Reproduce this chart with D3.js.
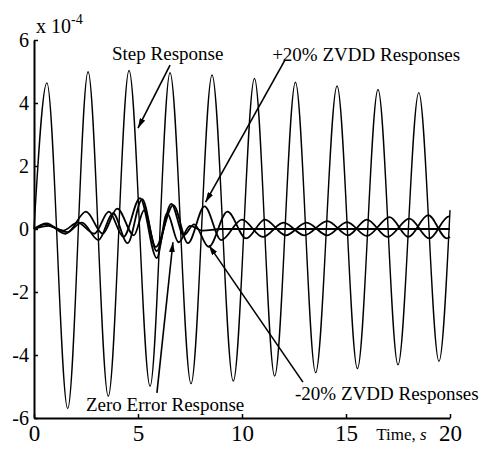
<!DOCTYPE html>
<html>
<head>
<meta charset="utf-8">
<script src="https://cdn.jsdelivr.net/npm/d3@7"></script>
<style>
    body { margin: 0; background: #fff; }
    #chart { width: 486px; height: 454px; }
    text { font-family: 'Liberation Serif', 'Times New Roman', serif; fill: #000; }
    .axis path, .axis line { stroke: #000; }
</style>
</head>
<body>
<div id="chart"></div>
<script>

// time (s), deflection (x 1e-4) -- extremes
let stepResponse = [
    [0, 0], [0.62, 4.64], [1.62, -5.7], [2.6, 4.99], [3.57, -5.31], [4.57, 5.03],
    [5.58, -4.99], [6.54, 4.96], [7.55, -4.91], [8.56, 4.89], [9.58, -4.83],
    [10.6, 4.78], [11.57, -4.67], [12.57, 4.66], [13.54, -4.56], [14.57, 4.54],
    [15.55, -4.43], [16.54, 4.43], [17.5, -4.31], [18.5, 4.33], [19.47, -4.2], [20, 0.6]
];

let zeroErrorResponse = [
    [0, 0], [0.5, 0.15], [1.4, -0.05], [2.1, 0.2], [2.9, -0.15], [3.6, 0.55],
    [4.3, -0.25], [5.1, 0.98], [5.9, -0.92], [6.4, 0.5], [6.95, -0.42],
    [7.5, 0.1], [8.1, -0.05], [9, 0], [20, 0]
];

let plus20Response = [
    [0, 0], [0.7, 0.1], [1.6, -0.1], [2.5, 0.55], [3.3, -0.15], [4.0, 0.65],
    [4.8, -0.2], [5.3, 0.6], [5.85, -0.57], [6.7, 0.76], [7.4, -0.45],
    [8.2, 0.72], [9.0, -0.35], [10.0, 0.3], [11.0, -0.25], [12.0, 0.2],
    [13.0, -0.2], [14.1, 0.25], [15.1, -0.2], [16.0, 0.3], [17.0, -0.25],
    [18.05, 0.33], [19.0, -0.3], [19.95, 0.4], [20, 0.4]
];

let minus20Response = [
    [0, 0], [0.6, 0.18], [1.5, -0.15], [2.3, 0.2], [3.1, -0.35], [3.8, 0.5],
    [4.5, -0.45], [5.2, 0.95], [5.9, -0.7], [6.6, 0.8], [7.2, -0.2],
    [7.7, 0.15], [8.4, -0.57], [9.3, 0.55], [10.2, -0.3], [11.1, 0.3],
    [12.1, -0.2], [13.1, 0.2], [14.1, -0.2], [15.05, 0.22], [16.0, -0.22],
    [17.1, 0.38], [18.0, -0.25], [18.95, 0.44], [19.85, -0.3], [20, -0.25]
];

let xTicks = [0, 5, 10, 15, 20];
let yTicks = [-6, -4, -2, 0, 2, 4, 6];

// label text, text anchor (t, v), arrow from (t, v), arrow to (t, v)
let annotations = [
    {text: "Step Response", at: [3.75, 5.37], from: [6.54, 5.2], to: [5.0, 3.2]},
    {text: "+20% ZVDD Responses", at: [11.45, 5.33], from: [12.07, 5.37], to: [8.25, 0.85]},
    {text: "Zero Error Response", at: [2.5, -5.78], from: [5.91, -5.2], to: [6.68, -0.42]},
    {text: "-20% ZVDD Responses", at: [12.55, -5.43], from: [12.93, -4.86], to: [8.41, -0.52]}
];

let margin = {top: 40, right: 36, bottom: 36, left: 34};
let width = 486 - margin.left - margin.right;
let height = 454 - margin.top - margin.bottom;

let svg = d3.select("#chart").append("svg")
    .attr("width", 486)
    .attr("height", 454)
    .append("g")
    .attr("transform", `translate(${margin.left}, ${margin.top})`);

svg.append("defs").append("marker")
    .attr("id", "arrow")
    .attr("viewBox", "0 0 10 6")
    .attr("refX", 10)
    .attr("refY", 3)
    .attr("markerWidth", 10)
    .attr("markerHeight", 6)
    .attr("markerUnits", "userSpaceOnUse")
    .attr("orient", "auto")
    .append("path")
    .attr("d", "M0,0L10,3L0,6Z")
    .attr("fill", "#000");

let x = d3.scaleLinear().domain([0, 20]).range([0, width]);
let y = d3.scaleLinear().domain([-6, 6]).range([height, 0]);

let line = d3.line()
    .x(d => x(d[0]))
    .y(d => y(d[1]))
    .curve(d3.curveMonotoneX);

// responses
svg.append("path")
    .datum(stepResponse)
    .attr("fill", "none")
    .attr("stroke", "#000")
    .attr("stroke-width", 1.4)
    .attr("d", line);

[zeroErrorResponse, plus20Response, minus20Response].forEach(series => {
    svg.append("path")
        .datum(series)
        .attr("fill", "none")
        .attr("stroke", "#000")
        .attr("stroke-width", 1.8)
        .attr("d", line);
});

// axes
let xAxis = svg.append("g")
    .attr("class", "axis")
    .attr("transform", `translate(0, ${height})`)
    .call(d3.axisBottom(x).tickValues(xTicks).tickSizeInner(-4).tickSizeOuter(0)
        .tickPadding(7).tickFormat(d => String(d)));

let yAxis = svg.append("g")
    .attr("class", "axis")
    .call(d3.axisLeft(y).tickValues(yTicks).tickSizeInner(-4).tickSizeOuter(0)
        .tickPadding(5).tickFormat(d => String(d)));

xAxis.select(".domain").attr("stroke-width", 2);
yAxis.select(".domain").attr("stroke-width", 2);
xAxis.selectAll(".tick line").attr("stroke-width", 1.5);
yAxis.selectAll(".tick line").attr("stroke-width", 1.5);
xAxis.selectAll("text").attr("font-size", 23);
yAxis.selectAll("text").attr("font-size", 20);

// x label
let xl = svg.append("text")
    .attr("x", x(16.45))
    .attr("y", height + 22)
    .attr("font-size", 17);
xl.append("tspan").text("Time, ");
xl.append("tspan").attr("font-style", "italic").text("s");

// exponent
svg.append("text")
    .attr("x", 2)
    .attr("y", -7)
    .attr("font-size", 20)
    .text("x 10");
svg.append("text")
    .attr("x", 37)
    .attr("y", -16)
    .attr("font-size", 14)
    .text("-4");

// annotations
annotations.forEach(a => {
    svg.append("line")
        .attr("x1", x(a.from[0]))
        .attr("y1", y(a.from[1]))
        .attr("x2", x(a.to[0]))
        .attr("y2", y(a.to[1]))
        .attr("stroke", "#000")
        .attr("stroke-width", 1.6)
        .attr("marker-end", "url(#arrow)");
    svg.append("text")
        .attr("x", x(a.at[0]))
        .attr("y", y(a.at[1]))
        .attr("font-size", 19)
        .text(a.text);
});

</script>
</body>
</html>
